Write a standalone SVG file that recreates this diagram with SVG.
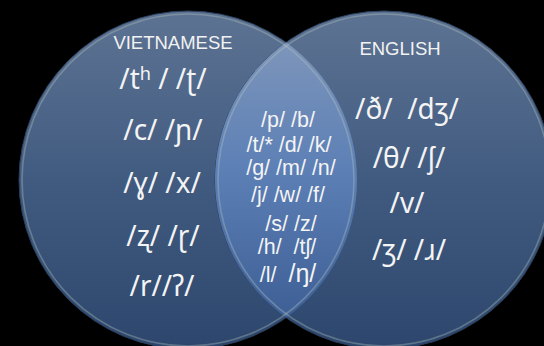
<svg xmlns="http://www.w3.org/2000/svg" width="544" height="346" viewBox="0 0 544 346">
  <defs>
    <linearGradient id="setFill" gradientUnits="userSpaceOnUse" x1="0" y1="11" x2="0" y2="349">
      <stop offset="0" stop-color="#5d7393"/>
      <stop offset="0.5" stop-color="#415b80"/>
      <stop offset="1" stop-color="#2c466d"/>
    </linearGradient>
    <linearGradient id="lensFill" gradientUnits="userSpaceOnUse" x1="0" y1="42" x2="0" y2="318">
      <stop offset="0" stop-color="#7d95ba"/>
      <stop offset="0.45" stop-color="#5d80b6"/>
      <stop offset="1" stop-color="#3d5f96"/>
    </linearGradient>
  </defs>
  <style>
    .set { fill: url(#setFill); stroke: #2b3f5c; stroke-width: 1; }
    .rim { fill: none; stroke: #b9c8bd; stroke-opacity: 0.35; stroke-width: 1.6; }
    .lens { fill: url(#lensFill); }
    .title { font-family: "Liberation Sans", Arial, sans-serif; font-size: 18.5px; fill: #f2f2f2; text-anchor: middle; }
    .big { font-family: "Noto Sans", "DejaVu Sans", sans-serif; font-size: 30px; fill: #f4f4f4; text-anchor: middle; }
    .small { font-family: "Liberation Sans", "DejaVu Sans", sans-serif; font-size: 21.5px; fill: #f4f4f4; text-anchor: middle; }
  </style>

  <rect width="544" height="346" fill="#000"/>

  <!-- set circles -->
  <g id="vietnamese-set">
    <circle class="set" cx="188" cy="180" r="169"/>
  </g>
  <g id="english-set">
    <circle class="set" cx="384" cy="180" r="169"/>
  </g>
  <g id="shared-set">
    <path class="lens" d="M286,42.3 A169,169 0 0,1 286,317.7 A169,169 0 0,1 286,42.3 Z"/>
  </g>

  <!-- glossy inner rims -->
  <g id="rims">
    <circle class="rim" cx="188" cy="180" r="166"/>
    <circle class="rim" cx="384" cy="180" r="166"/>
  </g>

  <!-- Vietnamese-only consonants -->
  <g id="vietnamese-labels">
    <text class="title" x="173" y="49">VIETNAMESE</text>
    <text class="big" transform="translate(163,89) scale(0.93,1)">/tʰ / /ʈ/</text>
    <text class="big" transform="translate(163,140) scale(0.93,1)">/c/ /ɲ/</text>
    <text class="big" transform="translate(162,193) scale(0.93,1)">/ɣ/ /x/</text>
    <text class="big" transform="translate(163,246) scale(0.93,1)">/ʐ/ /ɽ/</text>
    <text class="big" transform="translate(162,296) scale(0.93,1)">/r//ʔ/</text>
  </g>

  <!-- shared consonants -->
  <g id="shared-labels">
    <text class="small" x="288" y="127">/p/ /b/</text>
    <text class="small" x="289" y="152">/t/* /d/ /k/</text>
    <text class="small" x="291" y="175">/g/ /m/ /n/</text>
    <text class="small" x="288" y="202">/j/ /w/ /f/</text>
    <text class="small" x="291" y="231">/s/ /z/</text>
    <text class="small" x="287" y="254">/h/&#160; /tʃ/</text>
    <text class="small" x="288" y="282">/l/&#160; <tspan font-size="25px">/ŋ/</tspan></text>
  </g>

  <!-- English-only consonants -->
  <g id="english-labels">
    <text class="title" x="400" y="55">ENGLISH</text>
    <text class="big" transform="translate(407,119) scale(0.93,1)">/ð/&#160; /dʒ/</text>
    <text class="big" transform="translate(409,168) scale(0.93,1)">/θ/ /ʃ/</text>
    <text class="big" transform="translate(407,213) scale(0.93,1)">/v/</text>
    <text class="big" transform="translate(409,260) scale(0.93,1)">/ʒ/ /ɹ/</text>
  </g>
</svg>
